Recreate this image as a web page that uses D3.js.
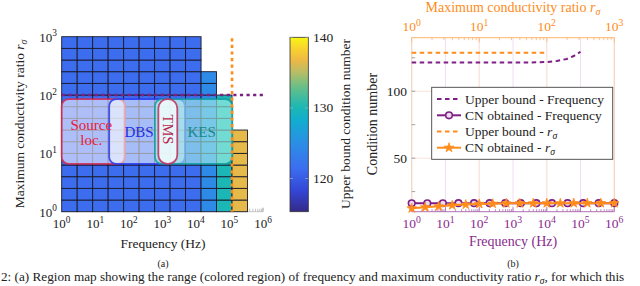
<!DOCTYPE html>
<html><head><meta charset="utf-8">
<script src="https://cdn.jsdelivr.net/npm/d3@7"></script>
<style>
body{margin:0;background:#fff}
svg{display:block}
text{font-family:"Liberation Serif","Times New Roman",serif;}
</style>
</head><body><svg id="c" width="640" height="286"></svg>
<script>
// ---------- DATA ----------
// (a) region map: cell edges (frequency Hz, max conductivity ratio)
const freqEdges = [1, 2.894, 8.377, 24.24, 70.17, 203.1, 587.9, 1701, 4924, 14251, 41246, 119378, 345511];
const ratioEdges = [1, 1.585, 2.512, 3.981, 6.310, 10, 15.85, 25.12, 39.81, 63.10, 100, 158.5, 251.2, 398.1, 631.0, 1000];
const colRows = [15, 15, 15, 15, 15, 15, 15, 15, 15, 12, 10, 7];           // rows filled per frequency column
const colUpperBound = [121.4, 121.4, 121.4, 121.4, 121.4, 121.4, 121.4, 121.4, 121.4, 124.5, 130, 136.5];
const freqLimit = 119378, ratioLimit = 100;
const regions = [
  {name: ["Source", "loc."], f: [1, 77], r: [6.6, 85]},
  {name: ["DBS"], f: [26, 4700], r: [6.6, 85]},
  {name: ["KES"], f: [600, 121600], r: [6.6, 85]},
  {name: ["TMS"], f: [760, 2790], r: [6.6, 85]}
];
const xTicksA = [0, 1, 2, 3, 4, 5, 6];
const yTicksA = [0, 1, 2, 3];
const cbTicks = [120, 130, 140];
const cbDomain = [115.3, 140];

// (b) condition number
const freqPts = [1, 2.894, 8.377, 24.24, 70.17, 203.1, 587.9, 1701, 4924, 14251, 41246, 119378, 345511, 1000000];
const cnFreq = [16.3, 16.3, 16.3, 16.4, 16.4, 16.4, 16.4, 16.4, 16.4, 16.4, 16.4, 16.4, 16.4, 16.4];
const ratioPts = [1, 1.585, 2.512, 3.981, 6.310, 10, 15.85, 25.12, 39.81, 63.10, 100, 158.5, 251.2, 398.1, 631.0, 1000];
const cnRatio = [12.5, 13.3, 14.0, 14.8, 15.3, 15.8, 16.0, 16.3, 16.3, 16.3, 16.3, 16.3, 16.4, 16.4, 16.4, 16.4];
const ubFreqF = [1, 10, 100, 1000, 3162, 10000, 19953, 38905, 63096, 100000];
const ubFreqV = [121.4, 121.4, 121.4, 121.4, 121.5, 121.8, 122.6, 124.1, 126.3, 129.5];
const ubRatioR = [1, 10, 100];
const ubRatioV = [128.8, 128.8, 128.8];
const yTicksB = [50, 100];
const yMinorB = [25, 75, 125];
const legendLabels = ["Upper bound - Frequency", "CN obtained - Frequency", "Upper bound - ", "CN obtained - "];

// ---------- STYLE ----------
const cmapT = [0, 0.12, 0.25, 0.40, 0.52, 0.60, 0.72, 0.80, 0.87, 0.94, 1];
const cmapC = ["#352a87", "#3346d6", "#3c6ef0", "#2a90e4", "#12acd0", "#1cb8b4", "#6cbf86", "#b8bd66", "#eeb944", "#f9d52c", "#f8f614"];
const PURPLE = "#7e1f86", ORANGE = "#ff8c1a";

const svg = d3.select("#c");

function pow10(g, k, x, y, anchor, color, size) {
  size = size || 13;
  const t = g.append("text").attr("x", x).attr("y", y).attr("text-anchor", anchor)
    .attr("font-size", size).attr("fill", color || "#222");
  t.append("tspan").text("10");
  t.append("tspan").attr("dy", -5.5).attr("font-size", size * 0.72).text(k);
  return t;
}
function rSigma(t, size) {
  t.append("tspan").attr("font-style", "italic").text("r");
  t.append("tspan").attr("font-style", "italic").attr("font-size", size * 0.72).attr("dy", 2.5).text("σ");
}

// ================= (a) =================
const xA = d3.scaleLog().domain([1, 1e6]).range([61.7, 263]);
const yA = d3.scaleLog().domain([1, 1e3]).range([211.7, 36.7]);
const cmap = d3.scaleLinear().domain(cmapT.map(t => cbDomain[0] + t * (cbDomain[1] - cbDomain[0]))).range(cmapC).interpolate(d3.interpolateRgb);

const gA = svg.append("g");
const minorF = [];
for (let e = 0; e < 6; e++) for (let m = 2; m <= 9; m++) minorF.push(m * Math.pow(10, e));
gA.append("line").attr("x1", xA(1)).attr("x2", xA(1e6)).attr("y1", yA(1)).attr("y2", yA(1)).attr("stroke", "#bbb").attr("stroke-width", 0.8);
gA.selectAll(".mt").data(minorF).enter().append("line")
  .attr("x1", d => xA(d)).attr("x2", d => xA(d)).attr("y1", yA(1)).attr("y2", yA(1) - 3)
  .attr("stroke", "#aaa").attr("stroke-width", 0.7);
gA.append("line").attr("x1", xA(1e6)).attr("x2", xA(1e6)).attr("y1", yA(1)).attr("y2", yA(1) - 4).attr("stroke", "#999");

const cells = [];
colRows.forEach((n, i) => { for (let j = 0; j < n; j++) cells.push({i, j, v: colUpperBound[i]}); });
gA.selectAll(".cell").data(cells).enter().append("rect")
  .attr("x", d => xA(freqEdges[d.i])).attr("width", d => xA(freqEdges[d.i + 1]) - xA(freqEdges[d.i]))
  .attr("y", d => yA(ratioEdges[d.j + 1])).attr("height", d => yA(ratioEdges[d.j]) - yA(ratioEdges[d.j + 1]))
  .attr("fill", d => cmap(d.v)).attr("stroke", "#1a1a2a").attr("stroke-width", 0.9);

const regStyle = {
  "Source": {stroke: "#d6284e", fill: "#f4f0ff", fo: 0.62, tc: "#e8203a"},
  "DBS": {stroke: "#2838f0", fill: "#ffffff", fo: 0.55, tc: "#2030e8"},
  "KES": {stroke: "#119c9c", fill: "#a6f0e6", fo: 0.62, tc: "#138a8a"},
  "TMS": {stroke: "#c02c5c", fill: "#ffffff", fo: 0.72, tc: "#b81c4c"}
};
regions.forEach(r => {
  const s = regStyle[r.name[0]];
  const x0 = xA(r.f[0]), x1 = xA(r.f[1]), y0 = yA(r.r[1]), y1 = yA(r.r[0]);
  gA.append("rect").attr("x", x0).attr("y", y0).attr("width", x1 - x0).attr("height", y1 - y0)
    .attr("rx", r.name[0] === "TMS" ? 9 : 7)
    .attr("fill", s.fill).attr("fill-opacity", s.fo)
    .attr("stroke", s.stroke).attr("stroke-width", 1.8).attr("stroke-opacity", 0.85);
});
regions.forEach(r => {
  const s = regStyle[r.name[0]];
  const cx = (xA(r.f[0]) + xA(r.f[1])) / 2, cy = (yA(r.r[0]) + yA(r.r[1])) / 2;
  if (r.name[0] === "Source") {
    gA.append("text").attr("x", cx - 2).attr("y", cy - 2).attr("text-anchor", "middle").attr("font-size", 15).attr("fill", s.tc).text(r.name[0]);
    gA.append("text").attr("x", cx - 2).attr("y", cy + 13).attr("text-anchor", "middle").attr("font-size", 15).attr("fill", s.tc).text(r.name[1]);
  } else if (r.name[0] === "TMS") {
    gA.append("text").attr("transform", `translate(${cx},${cy - 2}) rotate(90)`).attr("text-anchor", "middle").attr("dy", 5)
      .attr("font-size", 14.5).attr("fill", s.tc).text(r.name[0]);
  } else {
    const dx = r.name[0] === "DBS" ? -8 : 8;
    gA.append("text").attr("x", cx + dx).attr("y", cy + 5).attr("text-anchor", "middle").attr("font-size", 15).attr("fill", s.tc).text(r.name[0]);
  }
});

gA.append("line").attr("x1", xA(1)).attr("x2", 265).attr("y1", yA(ratioLimit)).attr("y2", yA(ratioLimit))
  .attr("stroke", PURPLE).attr("stroke-width", 2.6).attr("stroke-dasharray", "3.2,3.4");
gA.append("line").attr("x1", xA(freqLimit)).attr("x2", xA(freqLimit)).attr("y1", yA(1000) + 1.5).attr("y2", yA(1))
  .attr("stroke", ORANGE).attr("stroke-width", 2.6).attr("stroke-dasharray", "3.2,3.4");

xTicksA.forEach(k => pow10(gA, k, xA(Math.pow(10, k)), 228, "middle"));
yTicksA.forEach(k => pow10(gA, k, 57, yA(Math.pow(10, k)) + 5, "end"));
{
  const t = gA.append("text").attr("transform", "translate(24,124) rotate(-90)").attr("text-anchor", "middle").attr("font-size", 13.5).attr("fill", "#222");
  t.append("tspan").text("Maximum conductivity ratio ");
  rSigma(t, 13.5);
}
gA.append("text").attr("x", 163).attr("y", 248).attr("text-anchor", "middle").attr("font-size", 13.5).attr("fill", "#222").text("Frequency (Hz)");
gA.append("text").attr("x", 163).attr("y", 267).attr("text-anchor", "middle").attr("font-size", 10).attr("fill", "#222").text("(a)");

// colorbar
const yC = d3.scaleLinear().domain(cbDomain).range([211.7, 37.3]);
const defs = svg.append("defs");
const grad = defs.append("linearGradient").attr("id", "cb").attr("x1", 0).attr("y1", 1).attr("x2", 0).attr("y2", 0);
cmapT.forEach((t, i) => grad.append("stop").attr("offset", t).attr("stop-color", cmapC[i]));
svg.append("rect").attr("x", 290).attr("y", 37.3).attr("width", 18.3).attr("height", 174.4)
  .attr("fill", "url(#cb)").attr("stroke", "#333").attr("stroke-width", 0.8);
cbTicks.forEach(v => {
  svg.append("line").attr("x1", 290).attr("x2", 293).attr("y1", yC(v)).attr("y2", yC(v)).attr("stroke", "#bbb").attr("stroke-width", 0.6);
  svg.append("line").attr("x1", 305.3).attr("x2", 308.3).attr("y1", yC(v)).attr("y2", yC(v)).attr("stroke", "#bbb").attr("stroke-width", 0.6);
  svg.append("text").attr("x", 313).attr("y", yC(v) + 4.5).attr("font-size", 13.5).attr("fill", "#222").text(v);
});
svg.append("text").attr("transform", "translate(350,124) rotate(-90)").attr("text-anchor", "middle").attr("font-size", 13.5).attr("fill", "#222").text("Upper bound condition number");

// ================= (b) =================
const xB = d3.scaleLog().domain([1, 1e6]).range([411.7, 614.3]);
const xT = d3.scaleLog().domain([1, 1e3]).range([411.7, 614.3]);
const yB = d3.scaleLinear().domain([10, 140]).range([211.7, 37.7]);
const gB = svg.append("g");
[1, 10, 100, 1e3, 1e4, 1e5, 1e6].forEach(f => gB.append("line").attr("x1", xB(f)).attr("x2", xB(f)).attr("y1", yB(10)).attr("y2", yB(140)).attr("stroke", "#efe0f1").attr("stroke-width", 1));
[10, 100].forEach(r => gB.append("line").attr("x1", xT(r)).attr("x2", xT(r)).attr("y1", yB(10)).attr("y2", yB(140)).attr("stroke", "#fbe6d8").attr("stroke-width", 1));
yTicksB.forEach(v => gB.append("line").attr("x1", xB(1)).attr("x2", xB(1e6)).attr("y1", yB(v)).attr("y2", yB(v)).attr("stroke", "#f9e3d8").attr("stroke-width", 1));
gB.append("line").attr("x1", xB(1)).attr("x2", xB(1)).attr("y1", yB(10)).attr("y2", yB(140)).attr("stroke", "#f6d4b8").attr("stroke-width", 1);
gB.append("line").attr("x1", xB(1e6)).attr("x2", xB(1e6)).attr("y1", yB(10)).attr("y2", yB(140)).attr("stroke", "#f6d4b8").attr("stroke-width", 1);
gB.append("line").attr("x1", xB(1)).attr("x2", xB(1e6)).attr("y1", yB(140)).attr("y2", yB(140)).attr("stroke", "#ffb36b").attr("stroke-width", 1);
gB.append("line").attr("x1", xB(1)).attr("x2", xB(1e6)).attr("y1", yB(10)).attr("y2", yB(10)).attr("stroke", "#b070b4").attr("stroke-width", 1);
yTicksB.concat(yMinorB).forEach(v => gB.append("line").attr("x1", xB(1)).attr("x2", xB(1) + 3.5).attr("y1", yB(v)).attr("y2", yB(v)).attr("stroke", "#888").attr("stroke-width", 0.8));
yTicksB.forEach(v => gB.append("text").attr("x", 407).attr("y", yB(v) + 4.5).attr("text-anchor", "end").attr("font-size", 13.5).attr("fill", "#222").text(v));
const minorB = [];
for (let e = 0; e < 6; e++) for (let m = 2; m <= 9; m++) minorB.push(m * Math.pow(10, e));
gB.selectAll(".bm").data(minorB).enter().append("line").attr("x1", d => xB(d)).attr("x2", d => xB(d)).attr("y1", yB(10)).attr("y2", yB(10) - 2.5).attr("stroke", "#a060a6").attr("stroke-width", 0.7);
[1, 10, 100, 1e3, 1e4, 1e5, 1e6].forEach(f => gB.append("line").attr("x1", xB(f)).attr("x2", xB(f)).attr("y1", yB(10)).attr("y2", yB(10) - 4.5).attr("stroke", "#a060a6").attr("stroke-width", 0.8));
xTicksA.forEach(k => pow10(gB, k, xB(Math.pow(10, k)), 228, "middle", "#8a2b8e", 13.5));
gB.append("text").attr("x", 513).attr("y", 246).attr("text-anchor", "middle").attr("font-size", 14).attr("fill", "#8a2b8e").text("Frequency (Hz)");
gB.append("text").attr("x", 513).attr("y", 267).attr("text-anchor", "middle").attr("font-size", 10).attr("fill", "#222").text("(b)");
const minorT = [];
for (let e = 0; e < 3; e++) for (let m = 2; m <= 9; m++) minorT.push(m * Math.pow(10, e));
gB.selectAll(".tm").data(minorT).enter().append("line").attr("x1", d => xT(d)).attr("x2", d => xT(d)).attr("y1", yB(140)).attr("y2", yB(140) + 2.5).attr("stroke", "#ffb36b").attr("stroke-width", 0.8);
[1, 10, 100, 1000].forEach(r => gB.append("line").attr("x1", xT(r)).attr("x2", xT(r)).attr("y1", yB(140)).attr("y2", yB(140) + 4.5).attr("stroke", "#ffb36b").attr("stroke-width", 0.8));
[0, 1, 2, 3].forEach(k => pow10(gB, k, xT(Math.pow(10, k)), 31, "middle", ORANGE, 13.5));
{
  const t = gB.append("text").attr("x", 513).attr("y", 12).attr("text-anchor", "middle").attr("font-size", 14).attr("fill", ORANGE);
  t.append("tspan").text("Maximum conductivity ratio ");
  rSigma(t, 14);
}
gB.append("text").attr("transform", "translate(377,124) rotate(-90)").attr("text-anchor", "middle").attr("font-size", 14).attr("fill", "#222").text("Condition number");

const lineF = d3.line().x(d => xB(d[0])).y(d => yB(d[1]));
const lineR = d3.line().x(d => xT(d[0])).y(d => yB(d[1]));
gB.append("path").attr("d", lineF(ubFreqF.map((f, i) => [f, ubFreqV[i]]))).attr("fill", "none").attr("stroke", PURPLE).attr("stroke-width", 2).attr("stroke-dasharray", "4.5,3.5");
gB.append("path").attr("d", lineR(ubRatioR.map((r, i) => [r, ubRatioV[i]]))).attr("fill", "none").attr("stroke", ORANGE).attr("stroke-width", 2).attr("stroke-dasharray", "4.5,3.5");
gB.append("path").attr("d", lineF(freqPts.map((f, i) => [f, cnFreq[i]]))).attr("fill", "none").attr("stroke", PURPLE).attr("stroke-width", 2);
gB.selectAll(".cf").data(freqPts).enter().append("circle").attr("cx", d => xB(d)).attr("cy", (d, i) => yB(cnFreq[i])).attr("r", 3.3)
  .attr("fill", "#eadcec").attr("stroke", PURPLE).attr("stroke-width", 1.6);
gB.append("path").attr("d", lineR(ratioPts.map((r, i) => [r, cnRatio[i]]))).attr("fill", "none").attr("stroke", ORANGE).attr("stroke-width", 2);
const star = d3.symbol().type(d3.symbolStar).size(28);
gB.selectAll(".cr").data(ratioPts).enter().append("path").attr("d", star)
  .attr("transform", (d, i) => `translate(${xT(d)},${yB(cnRatio[i])})`).attr("fill", ORANGE).attr("stroke", ORANGE).attr("stroke-width", 0.8);

const lg = gB.append("g");
lg.append("rect").attr("x", 431.7).attr("y", 87.3).attr("width", 181).attr("height", 72).attr("fill", "#fff").attr("stroke", "#444").attr("stroke-width", 0.9);
const ly = [99, 115.3, 131.5, 147.7];
const lstyle = [
  {c: PURPLE, dash: "4.5,3.5", m: null},
  {c: PURPLE, dash: null, m: "circle"},
  {c: ORANGE, dash: "4.5,3.5", m: null},
  {c: ORANGE, dash: null, m: "star"}
];
legendLabels.forEach((lab, i) => {
  const s = lstyle[i];
  lg.append("line").attr("x1", 437).attr("x2", 461).attr("y1", ly[i]).attr("y2", ly[i]).attr("stroke", s.c).attr("stroke-width", 2).attr("stroke-dasharray", s.dash);
  if (s.m === "circle") lg.append("circle").attr("cx", 449).attr("cy", ly[i]).attr("r", 3.3).attr("fill", "#eadcec").attr("stroke", s.c).attr("stroke-width", 1.6);
  if (s.m === "star") lg.append("path").attr("d", star).attr("transform", `translate(449,${ly[i]})`).attr("fill", s.c).attr("stroke", s.c).attr("stroke-width", 0.8);
  const t = lg.append("text").attr("x", 465).attr("y", ly[i] + 4.5).attr("font-size", 13.5).attr("fill", "#222");
  t.append("tspan").text(lab);
  if (i >= 2) rSigma(t, 13.5);
});

// caption (bottom edge, as in the reference)
{
  const t = svg.append("text").attr("x", 1).attr("y", 281).attr("font-size", 13.2).attr("fill", "#222");
  t.append("tspan").text("2: (a) Region map showing the range (colored region) of frequency and maximum conductivity ratio ");
  rSigma(t, 13.2);
  t.append("tspan").attr("dy", -2.5).text(", for which this");
}
</script>
</body></html>
